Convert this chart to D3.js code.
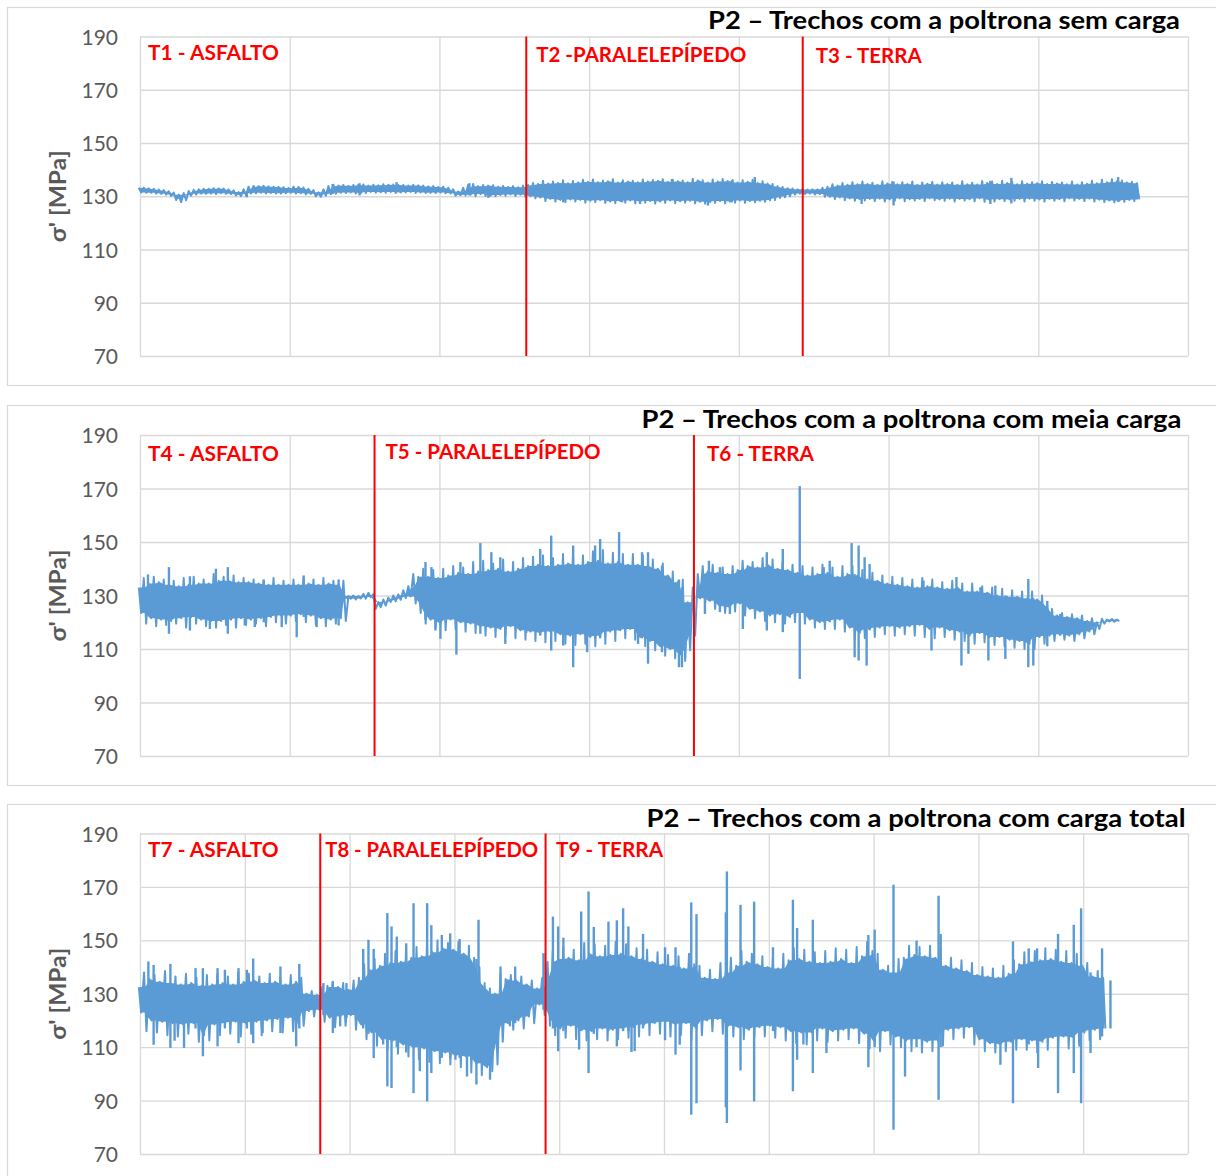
<!DOCTYPE html>
<html>
<head>
<meta charset="utf-8">
<script src="https://cdn.jsdelivr.net/npm/d3@7"></script>
<style>
  body { margin: 0; background: #fff; }
  svg { display: block; }
</style>
</head>
<body>
<svg id="chart" width="1216" height="1176"></svg>
<script>
// ---------- data ----------
const yTicks = [70, 90, 110, 130, 150, 170, 190];
const yTitle = "σ' [MPa]";
const titles = [
  "P2 – Trechos com a poltrona sem carga",
  "P2 – Trechos com a poltrona com meia carga",
  "P2 – Trechos com a poltrona com carga total"
];

// Each panel: max / min of the signal per sample window (Hi/Lo),
// plus the max / min of the half-windows in between (HiB/LoB),
// plus isolated peaks [sample, min, max].

// Panel 1 (sem carga)
const p1Hi = [133.2,133.0,132.5,131.9,130.6,132.0,132.6,132.8,132.9,132.6,
  131.6,133.6,133.8,133.7,133.5,133.1,133.5,132.8,131.5,133.8,
  134.0,133.9,134.3,134.0,134.1,134.3,134.2,134.0,134.1,133.7,
  133.5,133.2,131.8,134.3,133.8,134.0,133.6,133.5,133.4,134.2,
  134.6,134.8,135.0,134.9,135.2,135.4,135.3,135.6,135.2,135.5,
  135.3,135.5,135.8,135.4,135.6,135.3,135.9,135.2,135.5,135.7,
  135.2,135.4,135.0,134.8,133.8,133.0,132.6,132.5,132.6,133.6,
  134.0,134.3,134.5,134.6,134.3,134.8,134.5,134.6,134.3,134.7,
  134.4,134.6,134.3,134.5,134.4,135.0,134.6,135.0,134.5,134.7,
  134.9,134.6,134.8,134.5,134.4,134.7,134.9,135.3,135.6,135.2,
  134.9];
const p1Lo = [131.4,131.3,130.9,130.1,127.8,130.2,131.0,131.0,131.1,130.8,
  130.0,131.0,131.3,131.2,131.0,131.3,131.1,130.9,129.8,130.8,
  131.3,131.4,131.1,131.6,131.5,131.6,131.4,131.6,131.4,131.3,
  131.4,131.0,130.4,130.6,130.8,130.2,130.5,130.7,130.6,130.0,
  129.5,129.0,128.6,128.8,128.6,128.3,128.5,128.0,128.2,128.4,
  128.0,128.2,128.0,128.4,128.1,128.3,127.9,127.8,128.2,128.0,
  128.4,128.2,128.3,128.5,129.3,130.0,131.0,131.0,130.8,129.8,
  129.5,129.2,128.9,129.0,129.1,128.8,129.2,128.9,129.0,129.2,
  128.8,129.1,129.0,128.9,129.2,128.6,128.9,128.8,129.0,129.1,
  128.8,129.0,128.9,129.2,129.0,129.1,128.7,128.4,128.3,128.6,
  128.8];
const p1HiB = [133.2,132.8,132.3,131.4,131.2,132.4,132.8,133.0,132.9,132.2,
  132.6,133.9,133.9,133.6,133.4,133.6,133.3,132.3,132.6,134.3,
  134.2,134.2,134.4,134.3,134.5,134.4,134.2,134.3,134.0,133.8,
  133.6,132.6,133.2,134.6,134.2,134.1,133.9,133.8,134.0,135.0,
  135.8,135.5,136.0,135.7,136.2,136.3,135.9,136.4,136.0,135.8,
  136.3,136.1,136.4,136.2,135.9,136.6,136.0,136.3,136.5,136.1,
  136.0,136.2,135.6,134.6,133.5,132.9,132.7,132.6,133.2,134.5,
  135.0,135.3,135.5,135.1,135.6,135.4,135.3,135.5,135.2,135.4,
  135.3,135.2,135.6,135.1,135.7,135.5,135.8,135.4,135.6,135.3,
  135.6,135.4,135.2,135.5,135.3,135.8,136.2,136.4,135.9,135.4];
const p1LoB = [131.3,131.0,130.6,128.6,128.5,130.6,130.9,130.8,130.9,130.3,
  130.4,131.1,131.0,131.0,131.1,131.0,130.7,129.9,130.2,130.9,
  131.2,131.0,131.2,131.3,131.3,131.2,131.4,131.2,131.2,131.2,
  131.1,130.2,130.3,130.0,130.1,130.0,130.2,130.1,129.8,129.2,
  128.2,128.0,127.8,128.0,127.6,127.8,127.5,127.4,127.6,127.3,
  127.6,127.2,127.5,127.4,127.6,127.3,127.2,127.5,127.3,127.6,
  127.5,127.7,127.9,128.6,129.6,130.6,130.8,130.6,129.8,128.9,
  128.5,128.3,128.4,128.2,128.0,128.3,128.1,128.4,128.2,128.5,
  128.3,128.0,128.4,128.1,127.9,128.0,128.2,128.3,128.0,128.3,
  128.0,128.3,128.1,128.4,128.2,128.0,127.8,127.7,127.9,128.2];
const p1Peaks = [[10.7,129.6,131.6],[19.3,130.8,134.6],[22,130.3,134.9],[25.7,131.5,135.3],
  [33,130.3,134.9],[34.9,129.4,133],[42.4,127.7,134.9],[44.6,129,135.3],[48.3,127.7,135.5],
  [50.1,127.1,135],[53.3,128.5,136.5],[55.9,128.5,136],[56.9,126.5,135],[59.3,127.7,136],
  [61.6,128.5,137.2],[72.3,127.1,134.5],[75.5,126.5,135.5],[85.2,127.1,135.8],
  [87.3,127.3,136.9],[98,127.9,137.2]];
const p1Cuts = [38.7, 66.4];
const p1Labels = ["T1 - ASFALTO", "T2 -PARALELEPÍPEDO", "T3 - TERRA"];

// Panel 2 (meia carga)
const p2Hi = [133.0,134.5,135.0,134.0,133.5,134.0,134.5,134.5,135.5,135.5,
  135.0,135.0,134.5,134.0,134.0,134.0,134.0,134.5,134.0,134.5,
  134.0,129.8,129.8,131.0,127.6,129.2,130.4,133.5,137.0,137.0,
  136.5,137.5,138.5,138.0,139.0,139.5,140.0,139.0,140.0,141.0,
  141.5,141.0,141.5,142.0,141.5,142.5,143.0,142.0,142.5,141.5,
  141.5,141.0,140.0,137.5,135.0,127.5,138.0,139.0,138.5,138.0,
  139.5,141.0,140.5,141.5,140.0,139.5,138.5,137.5,138.0,138.5,
  137.0,138.0,137.5,136.0,135.5,134.5,134.0,133.5,133.0,133.5,
  133.0,132.5,133.0,131.5,131.5,131.0,130.0,129.5,129.5,129.0,
  128.5,127.0,122.5,122.0,121.5,120.5,120.0,121.0,121.0];
const p2Lo = [123.5,121.5,121.0,120.5,121.5,122.0,121.0,120.5,120.5,121.0,
  121.5,121.0,121.5,122.0,122.5,122.5,123.0,122.5,121.5,121.0,
  121.5,128.8,128.9,129.4,125.6,127.6,128.4,129.6,123.5,121.0,
  119.5,121.0,120.0,119.5,118.5,118.0,117.5,118.5,117.0,116.5,
  116.0,116.5,115.5,115.0,115.5,114.5,115.0,116.5,117.0,117.5,
  114.5,113.0,111.0,110.0,108.0,109.5,129.0,128.0,126.0,125.5,
  127.0,125.0,124.0,122.5,123.0,122.0,123.5,121.0,120.0,120.5,
  121.0,118.0,116.0,117.5,118.0,118.5,118.0,118.5,119.0,117.5,
  118.0,117.0,116.5,115.0,116.0,114.5,114.5,113.5,113.0,112.0,
  114.5,115.0,115.5,115.0,115.5,116.5,117.5,120.3,120.4];
const p2HiB = [136.5,137.0,136.0,135.5,136.5,137.0,136.0,138.0,137.0,137.5,
  136.5,136.0,135.5,136.5,135.5,136.0,136.5,136.0,136.5,135.5,
  135.5,130.0,130.6,130.5,128.5,130.0,132.0,138.0,140.0,139.5,
  140.0,141.0,140.5,142.5,143.0,142.0,143.5,142.5,144.0,144.5,
  145.0,144.0,145.5,146.0,145.0,146.5,147.0,146.0,145.5,145.5,
  145.0,143.5,142.0,139.0,136.0,133.0,141.0,141.5,140.5,141.0,
  143.0,142.5,144.0,143.5,142.5,141.5,141.0,140.5,141.5,140.5,
  141.0,141.0,139.5,138.5,137.5,137.0,136.5,136.0,136.5,136.0,
  135.0,135.5,134.5,134.5,133.5,133.0,132.5,132.0,131.5,131.5,
  130.0,125.0,123.5,123.0,122.5,121.5,121.3,121.2];
const p2LoB = [119.5,118.5,119.0,119.5,118.0,119.5,118.5,118.0,119.0,118.0,
  119.0,119.5,118.5,120.0,119.5,120.5,120.0,119.0,118.5,119.5,
  120.5,128.5,128.8,125.0,126.2,127.8,129.0,127.0,119.5,118.0,
  117.0,117.5,116.5,116.0,115.0,114.5,115.0,114.0,113.5,113.0,
  112.5,113.0,112.0,111.5,112.0,111.0,112.0,113.0,114.0,113.5,
  111.0,109.5,107.5,106.5,105.5,115.0,127.0,125.0,123.5,124.0,
  122.5,121.5,120.5,120.0,119.5,120.0,119.5,118.0,117.5,117.5,
  116.5,113.5,114.0,114.5,115.5,115.0,115.5,115.0,114.5,114.0,
  114.5,113.5,113.0,112.0,112.5,111.5,111.0,110.5,110.0,110.0,
  112.0,113.0,113.5,113.0,114.0,115.5,119.5,120.2];
const p2Peaks = [[0.8,124,137.9],[2.9,115.7,140.6],[5.0,116.9,137.2],[7.0,117.5,133],[7.6,121,140],
  [8.8,115.7,140.6],[10.5,118.8,133],[11.5,118.2,133],[12.4,120,136],[14.2,118.2,133],
  [15.7,114.4,132],[16.4,122,137.5],[17.7,118.2,133],[19.9,118.8,136],
  [28.6,121,142.5],[29.2,122,140.6],[29.6,116.9,136],[30.1,113.8,135],
  [31.7,107.9,136],[32.1,120,142.5],[34.1,115.7,149.6],[35.2,118,146.2],[36.1,118,144.3],
  [36.6,111.9,138],[38.7,116,140.6],[40.1,115,147.4],[41.2,109.4,152.4],[42.4,111.3,140],
  [43.4,103.2,148.7],[44.8,108.8,141],[45.6,114,148.7],[46.1,114,151.1],[48.0,116.9,153.7],
  [49.9,111.9,141],[50.3,114,146.2],[50.9,104.5,146.2],[52.3,108.8,141.2],[54.0,103.2,136],
  [54.3,103.2,133],[56.6,123.1,137],[57.0,128,143],[58.1,123.8,140.6],[59.1,123.1,137],
  [60.4,117.5,139],[62.8,116.9,146.2],[64.4,116.3,147.4],[66.1,98.8,170.9],[68.5,120,140.6],
  [69.1,120,143],[71.3,118,149.6],[71.6,106.9,138],[72.0,105.7,148.7],[72.6,117,144.3],
  [72.8,103.8,136],[73.1,117,141.8],[78.5,119,135.6],[79.3,109.4,133.7],[81.8,117,136.9],
  [82.3,103.8,132],[83.0,108.2,131],[84.2,116,133.1],[85.0,105.7,131],[85.7,114.5,133.7],
  [86.7,106.3,130],[89.0,103.2,136.2],[89.5,103.8,129],[90.9,111,128],[92.2,115,123.1]];
const p2Cuts = [23.5, 55.5];
const p2Labels = ["T4 - ASFALTO", "T5 - PARALELEPÍPEDO", "T6 - TERRA"];

// Panel 3 (carga total)
const p3Hi = [132.5,135.5,134.5,134.0,133.5,134.0,133.0,133.5,134.0,133.5,
  134.5,135.0,134.0,134.5,133.5,134.5,130.0,129.5,133.0,132.5,
  131.5,136.0,139.0,140.5,141.5,142.0,143.5,144.0,145.5,147.0,
  146.5,145.0,143.5,134.0,130.0,135.5,135.0,133.5,132.0,142.0,
  143.0,143.5,142.5,145.0,144.0,144.5,145.0,144.0,143.0,142.0,
  141.0,140.5,139.5,141.0,136.0,135.5,138.0,140.5,142.0,141.0,
  140.0,139.5,142.5,143.0,142.0,141.5,142.0,143.0,141.5,144.0,
  146.0,139.0,138.0,143.5,144.5,144.0,143.5,140.5,139.5,138.5,
  137.0,136.5,136.0,137.5,141.0,142.0,142.5,143.0,142.0,141.5,
  140.5,136.5,136.0];
const p3Lo = [123.0,120.0,119.5,119.0,118.5,119.0,114.5,118.5,119.0,119.5,
  119.0,119.5,120.0,120.5,121.0,119.0,123.5,124.0,121.0,121.5,
  122.0,118.5,115.5,113.0,112.5,111.0,110.0,109.5,108.5,108.0,
  107.0,106.5,104.0,102.5,103.5,119.0,120.0,121.5,126.0,118.0,
  117.0,118.0,116.5,116.0,117.0,116.5,117.0,117.5,118.5,119.0,
  119.5,118.5,119.0,117.0,120.0,120.5,118.0,117.5,116.5,117.5,
  118.0,117.5,116.0,115.5,115.5,117.0,116.0,116.5,117.0,115.0,
  112.0,116.0,114.0,112.5,113.0,112.0,112.5,116.5,117.0,117.5,
  113.0,111.5,111.0,112.0,113.0,112.5,112.0,113.5,114.0,113.5,
  115.5,116.5,117.0];
const p3HiB = [138.0,137.0,138.5,136.5,137.5,136.0,137.0,137.5,136.5,138.0,
  137.5,136.5,137.5,136.0,137.0,136.0,131.0,132.5,134.5,134.0,
  135.0,141.0,143.0,145.0,146.0,147.0,147.5,149.0,150.0,149.0,
  149.5,148.0,140.0,132.0,137.5,137.0,136.5,135.0,136.0,146.0,
  147.5,146.5,149.0,148.5,148.0,149.5,148.5,147.0,146.5,145.5,
  144.5,144.0,145.0,140.5,139.0,141.5,143.5,146.0,145.0,144.0,
  143.5,145.0,147.0,146.5,145.5,146.0,147.0,146.5,147.5,149.5,
  145.0,140.5,143.0,148.0,147.5,148.0,146.0,143.5,142.5,141.5,
  140.0,139.5,140.5,142.5,145.5,146.0,147.0,146.5,146.0,145.0,
  141.5,138.5];
const p3LoB = [116.0,115.5,114.5,114.0,115.0,112.0,112.5,114.5,115.0,114.0,
  115.0,114.5,116.0,115.5,116.0,118.0,121.5,119.5,117.5,118.0,
  116.5,113.0,110.5,109.0,107.5,106.5,105.5,104.5,104.0,103.5,
  102.5,100.5,99.5,101.0,112.0,116.5,117.0,119.0,122.0,114.5,
  113.5,113.0,112.5,113.0,112.5,113.0,113.5,114.0,114.5,115.0,
  114.0,114.5,113.0,114.5,116.0,115.0,114.0,113.0,113.5,114.0,
  113.5,112.5,111.5,111.0,112.5,112.0,112.5,113.0,111.5,109.5,
  108.5,111.0,110.0,108.5,108.0,108.5,110.5,113.0,113.5,111.0,
  108.5,108.0,108.5,109.0,109.0,108.0,109.0,110.0,109.5,110.5,
  112.5,113.0];
const p3Peaks = [[0.8,121,142.1],[1.3,110.9,140.8],[2.9,109.7,141.2],[3.3,112.4,134],[4.2,109.7,133],
  [5.3,117,139.6],[6.0,106.6,139.6],[7.4,110.3,139.6],[8.1,117,139],[9.4,111.5,139.6],
  [10.2,117,139],[10.8,111.5,143.2],[11.7,115.3,134],[13.4,115.3,140.2],[14.9,110.3,134],
  [15.2,117,141.2],[17.5,122,134],[18.4,115.3,134.6],[19.1,117.8,131],[19.7,121,134],
  [21.3,117,146.8],[21.8,115,150.2],[22.3,105.9,146.8],[23.2,111,140],[23.6,95.3,160.2],
  [24.0,94.7,155.2],[24.5,110,151.4],[25.4,108,148.9],[26.1,92.8,163.9],[26.7,101,142],
  [27.4,89.7,163.9],[27.8,100.3,155.7],[28.8,106,152],[29.6,106,152.6],[30.1,105.3,146],
  [30.5,106,150.5],[31.2,99,144],[32.1,96,143],[32.3,104,157.7],[33.4,97.8,128],
  [34.4,118,140.2],[35.3,117.8,134],[35.8,119,140.2],[38.5,124,145.2],[39.4,117,158.9],
  [39.9,108.5,155.2],[40.4,116,151],[41.9,109.1,141],[42.1,116,160.8],[42.8,100.3,168.3],
  [43.3,115,155],[44.7,116,157],[45.5,110.3,157.5],[46.1,116,162],[46.6,116,155.2],
  [46.9,108.2,142],[47.2,108.5,140],[48.0,117,152.4],[50.1,112.6,147.4],[51.1,107.2,147.4],
  [51.5,110.9,140],[52.6,84.7,164.2],[53.1,89,159.8],[55.9,87.5,160.5],[56.0,81.6,175.8],
  [57.3,101.3,163.3],[58.6,89.7,164.5],[60.4,116,147.4],[62.3,93.5,165.2],[62.7,105.3,154.6],
  [63.3,111,142],[64.2,100.3,157.7],[65.5,107.8,140],[69.5,102.5,152],[70.1,110,154],
  [71.9,79.1,170.8],[73.0,99,143],[74.1,110,149.9],[76.2,90.3,166.7],[76.4,110,152.4],
  [82.1,103.4,136],[83.3,89,149.6],[84.8,111,147],[85.6,111,147],[85.7,102.2,140],
  [87.6,92.8,152.4],[89.1,100.3,155.8],[89.8,89,162],[90.7,107.8,138],[91.8,114,147],
  [92.6,117,135]];
const p3Cuts = [17.2, 38.7];
const p3Labels = ["T7 - ASFALTO", "T8 - PARALELEPÍPEDO", "T9 - TERRA"];

// ---------- layout ----------
const BLUE = "#5B9BD5", RED = "#FF0000", GRID = "#D9D9D9", AXIS_TXT = "#595959";
const FONT = "Lato, 'Open Sans', 'Liberation Sans', sans-serif";
const plotL = 140, plotR = 1188;

const panels = [
  { hi: p1Hi, lo: p1Lo, hiB: p1HiB, loB: p1LoB, peaks: p1Peaks, cuts: p1Cuts, labels: p1Labels,
    title: titles[0], xMax: 105, xStep: 15, box: [7.5, 385.5], top: 36.5, bottom: 356,
    titleEnd: 1180, titleBase: 28.5, titleW: 472,
    labelDx: [8, 10, 13], labelBase: [60, 61.5, 62.5], labelW: [131, 210, 106] },
  { hi: p2Hi, lo: p2Lo, hiB: p2HiB, loB: p2LoB, peaks: p2Peaks, cuts: p2Cuts, labels: p2Labels,
    title: titles[1], xMax: 105, xStep: 15, box: [405.5, 785.5], top: 435, bottom: 756,
    titleEnd: 1181.5, titleBase: 428, titleW: 540,
    labelDx: [8, 11, 13], labelBase: [460.7, 458.7, 461], labelW: [131, 215, 107] },
  { hi: p3Hi, lo: p3Lo, hiB: p3HiB, loB: p3LoB, peaks: p3Peaks, cuts: p3Cuts, labels: p3Labels,
    title: titles[2], xMax: 100, xStep: 10, box: [804.5, 1300], top: 833.5, bottom: 1154,
    titleEnd: 1185.5, titleBase: 827, titleW: 539,
    labelDx: [8, 5, 10.5], labelBase: [856.7, 856.7, 856.7], labelW: [130.5, 213, 107] }
];

const svg = d3.select("#chart");

// interleave full windows and half windows into one ordered series
function buildSeries(p) {
  const s = [];
  p.hi.forEach((h, i) => {
    s.push({ t: i, hi: h, lo: p.lo[i] });
    if (i < p.hiB.length) s.push({ t: i + 0.5, hi: p.hiB[i], lo: p.loB[i] });
  });
  return s;
}

function drawPanel(p) {
  const g = svg.append("g");

  // outer chart frame
  g.append("rect")
    .attr("x", 7.5).attr("y", p.box[0])
    .attr("width", 1300).attr("height", p.box[1] - p.box[0])
    .attr("fill", "#fff").attr("stroke", GRID).attr("stroke-width", 1.2);

  const x = d3.scaleLinear().domain([0, p.xMax]).range([plotL, plotR]);
  const y = d3.scaleLinear().domain([70, 190]).range([p.bottom, p.top]);

  // vertical gridlines
  const xAxis = d3.axisBottom(x)
    .tickValues(d3.range(0, p.xMax + 0.001, p.xStep))
    .tickSize(-(p.bottom - p.top)).tickFormat("");
  const gx = g.append("g").attr("transform", `translate(0,${p.bottom})`).call(xAxis);
  gx.select(".domain").remove();
  gx.selectAll("line").attr("stroke", GRID).attr("stroke-width", 1.3);

  // horizontal gridlines + tick labels
  const yAxis = d3.axisLeft(y).tickValues(yTicks)
    .tickSize(-(plotR - plotL)).tickPadding(22);
  const gy = g.append("g").attr("transform", `translate(${plotL},0)`).call(yAxis);
  gy.select(".domain").remove();
  gy.selectAll("line").attr("stroke", GRID).attr("stroke-width", 1.3);
  gy.selectAll("text")
    .attr("fill", AXIS_TXT).attr("font-family", FONT).attr("font-size", 21)
    .attr("dy", "0.36em");

  // axis title
  g.append("text")
    .attr("transform", `translate(66,${(p.top + p.bottom) / 2}) rotate(-90)`)
    .attr("text-anchor", "middle")
    .attr("fill", AXIS_TXT).attr("font-family", FONT).attr("font-weight", 700)
    .attr("font-size", 22)
    .attr("textLength", 92).attr("lengthAdjust", "spacingAndGlyphs")
    .text(yTitle);

  const series = buildSeries(p);

  // dense core of the signal: inner envelope of neighbouring windows
  const core = series.map((d, k) => {
    const nb = series.slice(Math.max(0, k - 1), k + 2);
    return { t: d.t, top: d3.min(nb, e => e.hi), bot: d3.max(nb, e => e.lo) };
  });
  g.append("path").datum(core)
    .attr("d", d3.area().x(d => x(d.t)).y0(d => y(d.bot)).y1(d => y(d.top)))
    .attr("fill", BLUE);

  // raw trace: swings between window max and min
  const dx = 1.2;
  const trace = [];
  series.forEach(d => {
    trace.push([x(d.t) - dx, y(d.hi)]);
    trace.push([x(d.t) + dx, y(d.lo)]);
  });
  g.append("path")
    .attr("d", d3.line()(trace))
    .attr("fill", "none").attr("stroke", BLUE).attr("stroke-width", 2)
    .attr("stroke-linejoin", "round");

  // isolated peaks
  g.append("g").selectAll("line").data(p.peaks).join("line")
    .attr("x1", d => x(d[0])).attr("x2", d => x(d[0]))
    .attr("y1", d => y(d[1])).attr("y2", d => y(d[2]))
    .attr("stroke", BLUE).attr("stroke-width", 2.4);

  // section boundaries
  g.append("g").selectAll("line").data(p.cuts).join("line")
    .attr("x1", d => x(d)).attr("x2", d => x(d))
    .attr("y1", y(190)).attr("y2", y(70))
    .attr("stroke", RED).attr("stroke-width", 2);

  // section labels
  const starts = [0, ...p.cuts];
  g.append("g").selectAll("text").data(p.labels).join("text")
    .attr("x", (d, i) => x(starts[i]) + p.labelDx[i])
    .attr("y", (d, i) => p.labelBase[i])
    .attr("fill", RED).attr("font-family", FONT).attr("font-weight", 700)
    .attr("font-size", 21)
    .attr("textLength", (d, i) => p.labelW[i]).attr("lengthAdjust", "spacingAndGlyphs")
    .text(d => d);

  // chart title
  g.append("text")
    .attr("x", p.titleEnd).attr("y", p.titleBase)
    .attr("text-anchor", "end")
    .attr("fill", "#000").attr("font-family", FONT).attr("font-weight", 700)
    .attr("font-size", 24.5)
    .attr("textLength", p.titleW).attr("lengthAdjust", "spacingAndGlyphs")
    .text(p.title);
}

panels.forEach(drawPanel);
</script>
</body>
</html>
